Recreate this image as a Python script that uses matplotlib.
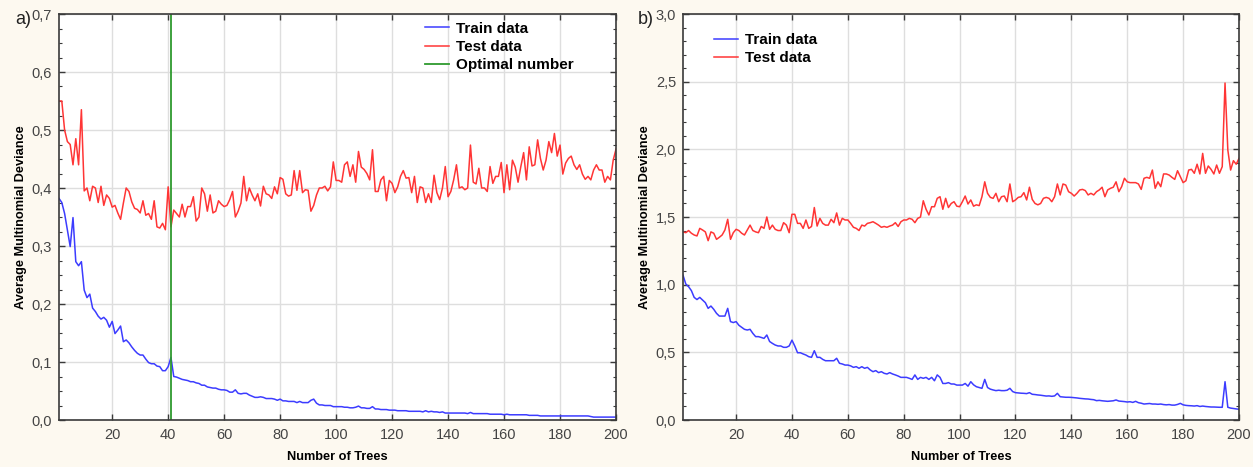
import numpy as np
import matplotlib
matplotlib.use("Agg")
import matplotlib.pyplot as plt
from matplotlib.ticker import MultipleLocator

plt.rcParams['font.family'] = ['Liberation Sans', 'DejaVu Sans']

# ---------------- data ----------------
trees = list(range(1, 201))

a_train = [
    0.382, 0.375, 0.356, 0.328, 0.299, 0.349, 0.273, 0.266, 0.273, 0.224,
    0.211, 0.217, 0.193, 0.187, 0.179, 0.174, 0.177, 0.172, 0.160, 0.170,
    0.149, 0.155, 0.162, 0.135, 0.138, 0.133, 0.126, 0.120, 0.115, 0.112,
    0.112, 0.105, 0.099, 0.097, 0.097, 0.093, 0.092, 0.085, 0.085, 0.092,
    0.108, 0.075, 0.074, 0.072, 0.070, 0.069, 0.068, 0.066, 0.066, 0.064,
    0.063, 0.060, 0.060, 0.057, 0.056, 0.055, 0.055, 0.053, 0.052, 0.052,
    0.051, 0.048, 0.048, 0.052, 0.046, 0.045, 0.046, 0.046, 0.043, 0.041,
    0.039, 0.039, 0.040, 0.039, 0.037, 0.037, 0.037, 0.036, 0.034, 0.036,
    0.033, 0.033, 0.032, 0.032, 0.032, 0.030, 0.032, 0.030, 0.030, 0.030,
    0.034, 0.036, 0.029, 0.026, 0.026, 0.025, 0.025, 0.025, 0.023, 0.023,
    0.023, 0.023, 0.022, 0.022, 0.021, 0.021, 0.022, 0.024, 0.021, 0.021,
    0.020, 0.020, 0.023, 0.019, 0.019, 0.018, 0.018, 0.018, 0.017, 0.017,
    0.017, 0.016, 0.016, 0.016, 0.016, 0.015, 0.015, 0.015, 0.015, 0.015,
    0.014, 0.016, 0.014, 0.015, 0.014, 0.014, 0.013, 0.014, 0.012, 0.012,
    0.012, 0.012, 0.012, 0.012, 0.012, 0.012, 0.011, 0.013, 0.011, 0.011,
    0.011, 0.011, 0.011, 0.011, 0.010, 0.010, 0.010, 0.010, 0.010, 0.009,
    0.010, 0.009, 0.009, 0.009, 0.009, 0.009, 0.009, 0.009, 0.008, 0.008,
    0.008, 0.008, 0.007, 0.007, 0.007, 0.007, 0.007, 0.007, 0.007, 0.007,
    0.007, 0.007, 0.007, 0.007, 0.007, 0.007, 0.007, 0.007, 0.007, 0.007,
    0.006, 0.005, 0.005, 0.005, 0.005, 0.005, 0.005, 0.005, 0.005, 0.005,
]

a_test = [
    0.550, 0.550, 0.500, 0.480, 0.475, 0.440, 0.485, 0.440, 0.535, 0.395,
    0.400, 0.378, 0.403, 0.400, 0.375, 0.403, 0.370, 0.388, 0.382, 0.367,
    0.370, 0.357, 0.346, 0.374, 0.400, 0.394, 0.376, 0.365, 0.363, 0.357,
    0.378, 0.353, 0.356, 0.346, 0.378, 0.333, 0.331, 0.339, 0.328, 0.402,
    0.333, 0.362, 0.356, 0.350, 0.372, 0.350, 0.368, 0.368, 0.385, 0.343,
    0.350, 0.400, 0.390, 0.360, 0.388, 0.357, 0.360, 0.378, 0.372, 0.368,
    0.370, 0.380, 0.394, 0.350, 0.360, 0.374, 0.420, 0.378, 0.400, 0.388,
    0.378, 0.390, 0.369, 0.403, 0.390, 0.388, 0.382, 0.402, 0.390, 0.418,
    0.415, 0.390, 0.386, 0.388, 0.430, 0.396, 0.430, 0.392, 0.397, 0.396,
    0.360, 0.370, 0.388, 0.400, 0.400, 0.403, 0.395, 0.402, 0.445, 0.413,
    0.413, 0.410, 0.440, 0.445, 0.420, 0.440, 0.410, 0.463, 0.436, 0.432,
    0.425, 0.414, 0.466, 0.394, 0.394, 0.414, 0.420, 0.378, 0.413, 0.408,
    0.392, 0.402, 0.420, 0.430, 0.417, 0.418, 0.392, 0.420, 0.375, 0.402,
    0.400, 0.375, 0.390, 0.375, 0.422, 0.392, 0.380, 0.400, 0.437, 0.385,
    0.394, 0.414, 0.440, 0.400, 0.402, 0.397, 0.400, 0.474, 0.410, 0.407,
    0.434, 0.400, 0.400, 0.394, 0.437, 0.408, 0.420, 0.420, 0.444, 0.392,
    0.440, 0.397, 0.448, 0.436, 0.410, 0.437, 0.461, 0.414, 0.471, 0.438,
    0.440, 0.483, 0.451, 0.431, 0.448, 0.480, 0.461, 0.494, 0.455, 0.474,
    0.424, 0.443, 0.451, 0.455, 0.440, 0.432, 0.440, 0.424, 0.415, 0.420,
    0.414, 0.431, 0.440, 0.431, 0.431, 0.410, 0.420, 0.414, 0.448, 0.467,
]

b_train = [
    1.070, 1.005, 0.985, 0.956, 0.906, 0.890, 0.906, 0.887, 0.867, 0.825,
    0.842, 0.818, 0.788, 0.768, 0.768, 0.768, 0.825, 0.727, 0.720, 0.727,
    0.700, 0.685, 0.670, 0.665, 0.670, 0.640, 0.616, 0.616, 0.610, 0.603,
    0.628, 0.580, 0.566, 0.554, 0.547, 0.547, 0.537, 0.537, 0.547, 0.590,
    0.547, 0.497, 0.497, 0.488, 0.480, 0.468, 0.463, 0.512, 0.463, 0.463,
    0.448, 0.438, 0.438, 0.438, 0.438, 0.456, 0.419, 0.414, 0.406, 0.406,
    0.400, 0.389, 0.394, 0.382, 0.394, 0.382, 0.389, 0.370, 0.357, 0.365,
    0.350, 0.357, 0.345, 0.340, 0.350, 0.340, 0.333, 0.325, 0.315, 0.315,
    0.315, 0.308, 0.300, 0.333, 0.300, 0.315, 0.308, 0.315, 0.300, 0.315,
    0.290, 0.333, 0.315, 0.270, 0.270, 0.276, 0.266, 0.266, 0.258, 0.258,
    0.258, 0.270, 0.250, 0.283, 0.260, 0.246, 0.240, 0.234, 0.300, 0.240,
    0.228, 0.222, 0.217, 0.220, 0.217, 0.217, 0.220, 0.234, 0.210, 0.202,
    0.200, 0.198, 0.197, 0.195, 0.202, 0.190, 0.188, 0.185, 0.183, 0.180,
    0.177, 0.178, 0.175, 0.178, 0.197, 0.172, 0.170, 0.168, 0.168, 0.167,
    0.165, 0.163, 0.160, 0.158, 0.156, 0.155, 0.152, 0.150, 0.143, 0.145,
    0.142, 0.140, 0.138, 0.140, 0.142, 0.148, 0.140, 0.138, 0.136, 0.133,
    0.135, 0.130, 0.138, 0.128, 0.124, 0.118, 0.120, 0.122, 0.118, 0.118,
    0.116, 0.118, 0.114, 0.112, 0.114, 0.110, 0.110, 0.115, 0.123, 0.112,
    0.108, 0.106, 0.105, 0.103, 0.106, 0.100, 0.103, 0.100, 0.098, 0.096,
    0.096, 0.095, 0.094, 0.094, 0.283, 0.094, 0.088, 0.085, 0.082, 0.079,
]

b_test = [
    1.390, 1.384, 1.400, 1.380, 1.367, 1.360, 1.416, 1.404, 1.390, 1.325,
    1.390, 1.380, 1.335, 1.350, 1.367, 1.404, 1.483, 1.335, 1.384, 1.409,
    1.400, 1.380, 1.367, 1.404, 1.440, 1.400, 1.390, 1.384, 1.430, 1.416,
    1.500, 1.409, 1.440, 1.409, 1.400, 1.400, 1.458, 1.440, 1.384, 1.520,
    1.520, 1.453, 1.453, 1.416, 1.478, 1.416, 1.430, 1.570, 1.433, 1.490,
    1.453, 1.440, 1.440, 1.483, 1.458, 1.530, 1.440, 1.490, 1.478, 1.478,
    1.453, 1.424, 1.416, 1.400, 1.440, 1.433, 1.453, 1.458, 1.465, 1.453,
    1.440, 1.424, 1.430, 1.424, 1.433, 1.440, 1.458, 1.430, 1.465, 1.478,
    1.478, 1.490, 1.483, 1.458, 1.490, 1.500, 1.620, 1.557, 1.515, 1.576,
    1.576, 1.638, 1.650, 1.557, 1.638, 1.570, 1.600, 1.613, 1.580, 1.576,
    1.613, 1.655, 1.596, 1.626, 1.580, 1.590, 1.584, 1.650, 1.760, 1.675,
    1.645, 1.638, 1.675, 1.613, 1.650, 1.655, 1.613, 1.744, 1.613, 1.626,
    1.645, 1.650, 1.680, 1.626, 1.720, 1.630, 1.600, 1.590, 1.600, 1.638,
    1.645, 1.638, 1.613, 1.650, 1.744, 1.663, 1.744, 1.736, 1.687, 1.675,
    1.655, 1.675, 1.700, 1.704, 1.695, 1.663, 1.675, 1.663, 1.687, 1.700,
    1.720, 1.650, 1.700, 1.712, 1.720, 1.760, 1.687, 1.724, 1.786, 1.760,
    1.754, 1.754, 1.754, 1.744, 1.704, 1.786, 1.793, 1.786, 1.847, 1.712,
    1.760, 1.724, 1.818, 1.818, 1.810, 1.793, 1.778, 1.842, 1.798, 1.754,
    1.768, 1.847, 1.852, 1.823, 1.890, 1.818, 1.970, 1.823, 1.877, 1.852,
    1.818, 1.884, 1.823, 1.872, 2.490, 1.995, 1.847, 1.916, 1.890, 1.933,
]

optimal_trees = 41

a_yticks = [0.0, 0.1, 0.2, 0.3, 0.4, 0.5, 0.6, 0.7]
a_yticklabels = ["0,0", "0,1", "0,2", "0,3", "0,4", "0,5", "0,6", "0,7"]
b_yticks = [0.0, 0.5, 1.0, 1.5, 2.0, 2.5, 3.0]
b_yticklabels = ["0,0", "0,5", "1,0", "1,5", "2,0", "2,5", "3,0"]
xticks = [20, 40, 60, 80, 100, 120, 140, 160, 180, 200]

# ---------------- style ----------------
BG = '#fdf9f0'
BLUE = '#3c3cff'
RED = '#ff3535'
GREEN = '#2e9a2e'
SPINE = '#3a3a3a'
TICKTXT = '#444444'

fig = plt.figure(figsize=(12.53, 4.67), dpi=100, facecolor=BG)
axA = fig.add_axes([59 / 1253, 47 / 467, 557 / 1253, 406 / 467])
axB = fig.add_axes([683 / 1253, 47 / 467, 556 / 1253, 406 / 467])


def style(ax, yticks, ylabels, ymax, yminor):
    ax.set_facecolor('white')
    ax.set_xlim(1, 200)
    ax.set_ylim(0, ymax)
    ax.set_xticks(xticks)
    ax.set_xticklabels([str(v) for v in xticks])
    ax.set_yticks(yticks)
    ax.set_yticklabels(ylabels)
    ax.yaxis.set_minor_locator(MultipleLocator(yminor))
    ax.grid(True, which='major', color='#dedede', lw=1.0)
    ax.set_axisbelow(True)
    for s in ax.spines.values():
        s.set_color(SPINE)
        s.set_linewidth(1.2)
    ax.tick_params(which='both', direction='in', top=True, right=True,
                   color=SPINE, labelcolor=TICKTXT, labelsize=10.5)
    ax.tick_params(which='major', length=4, width=1)
    ax.tick_params(which='minor', length=2.5, width=0.8)
    ax.tick_params(axis='x', which='minor', bottom=False, top=False)
    ax.tick_params(axis='x', pad=6)
    ax.tick_params(axis='y', pad=5)
    ax.set_xlabel('Number of Trees', fontsize=9.2, fontweight='bold', labelpad=6)
    ax.set_ylabel('Average Multinomial Deviance', fontsize=9.2, fontweight='bold', labelpad=3)


style(axA, a_yticks, a_yticklabels, 0.7, 0.025)
style(axB, b_yticks, b_yticklabels, 3.0, 0.1)

axA.plot(trees, a_train, color=BLUE, lw=1.1, label='Train data')
axA.plot(trees, a_test, color=RED, lw=1.1, label='Test data')
axA.axvline(optimal_trees, color=GREEN, lw=1.3, label='Optimal number')

axB.plot(trees, b_train, color=BLUE, lw=1.1, label='Train data')
axB.plot(trees, b_test, color=RED, lw=1.1, label='Test data')

leg_kw = dict(frameon=False, borderpad=0.0, handlelength=1.6, handletextpad=0.45,
              labelspacing=0.28, prop={'weight': 'bold', 'size': 11})
axA.legend(loc='upper left', bbox_to_anchor=(0.643, 1.0), **leg_kw)
axB.legend(loc='upper left', bbox_to_anchor=(0.042, 0.972), **leg_kw)

fig.text(15 / 1253, 1 - 19 / 467, 'a)', fontsize=13, va='center', ha='left', color='#222222')
fig.text(638 / 1253, 1 - 19 / 467, 'b)', fontsize=13, va='center', ha='left', color='#222222')

fig.savefig('out.png', dpi=100, facecolor=BG)
